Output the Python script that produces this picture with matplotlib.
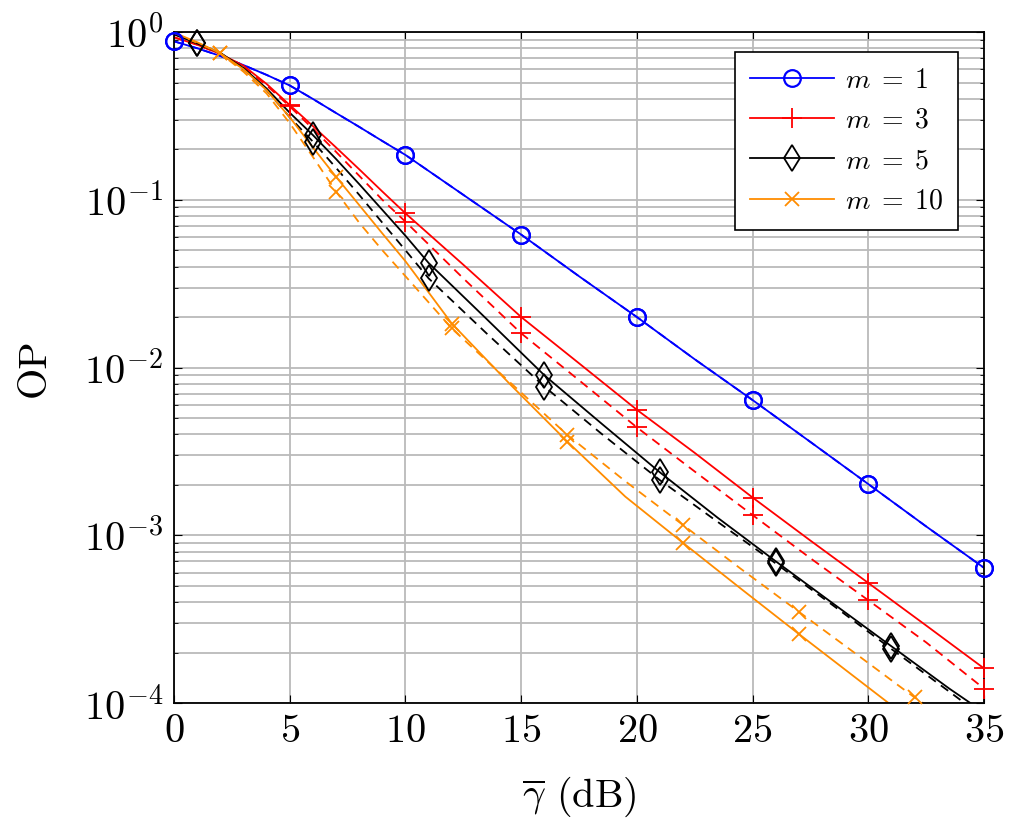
import matplotlib
matplotlib.use('Agg')
import matplotlib.pyplot as plt
from matplotlib.lines import Line2D
from matplotlib.ticker import LogLocator, NullFormatter, FixedLocator

plt.rcParams['font.family'] = 'serif'
plt.rcParams['font.serif'] = ['cmr10', 'DejaVu Serif']
plt.rcParams['mathtext.fontset'] = 'cm'
plt.rcParams['axes.unicode_minus'] = False
plt.rcParams['axes.formatter.use_mathtext'] = True

# m = 1 (solid and dashed are on top of each other)
x_m1 = [0, 1, 2, 3, 4, 5, 6, 7, 8, 9, 10, 12.5, 15, 17.5, 20, 22.5, 25, 27.5, 30, 32.5, 35]
op_m1 = [0.88, 0.80, 0.72, 0.635, 0.555, 0.48, 0.399, 0.329, 0.272, 0.224, 0.185, 0.107,
         0.062, 0.035, 0.020, 0.0112, 0.0064, 0.0036, 0.00202, 0.00113, 0.00064]
op_m1_d = [0.88, 0.80, 0.72, 0.635, 0.555, 0.48, 0.399, 0.329, 0.272, 0.224, 0.185, 0.107,
           0.062, 0.035, 0.020, 0.0112, 0.0064, 0.0036, 0.00202, 0.00113, 0.00064]

# m = 3
x_m3 = [0, 1, 2, 3, 4, 5, 6, 7, 8, 9, 10, 12.5, 15, 17.5, 20, 22.5, 25, 27.5, 30, 32.5, 35]
op_m3 = [0.93, 0.84, 0.74, 0.63, 0.49, 0.367, 0.275, 0.205, 0.152, 0.112, 0.083, 0.041,
         0.020, 0.0106, 0.0056, 0.0031, 0.00168, 0.00093, 0.00052, 0.00029, 0.000161]
op_m3_d = [0.93, 0.84, 0.74, 0.62, 0.48, 0.36, 0.265, 0.193, 0.139, 0.100, 0.074, 0.034,
           0.016, 0.0084, 0.0044, 0.0024, 0.00132, 0.00073, 0.00041, 0.00023, 0.000122]

# m = 5
x_m5 = [0, 1, 2, 3, 4, 5, 6, 7, 8, 9, 10, 11, 13.5, 16, 18.5, 21, 23.5, 26, 28.5, 31, 33.5, 35]
op_m5 = [0.97, 0.855, 0.75, 0.61, 0.46, 0.33, 0.243, 0.175, 0.124, 0.087, 0.061, 0.042,
         0.0195, 0.0090, 0.0046, 0.00237, 0.00127, 0.00070, 0.00039, 0.000218, 0.000122, 0.000088]
op_m5_d = [0.97, 0.855, 0.75, 0.60, 0.45, 0.31, 0.222, 0.155, 0.107, 0.073, 0.050, 0.034,
           0.0160, 0.0077, 0.0040, 0.00213, 0.00120, 0.00068, 0.00038, 0.000210, 0.000117, 0.000082]

# m = 10
x_m10 = [0, 1, 2, 3, 4, 5, 6, 7, 8, 9, 10, 12, 14.5, 17, 19.5, 22, 24.5, 27, 29.5, 32, 33]
op_m10 = [0.99, 0.87, 0.746, 0.60, 0.45, 0.31, 0.205, 0.137, 0.093, 0.063, 0.043, 0.0183,
          0.0080, 0.00361, 0.00170, 0.00090, 0.00048, 0.000258, 0.000140, 0.000076, 0.000061]
op_m10_d = [0.99, 0.86, 0.746, 0.58, 0.43, 0.286, 0.180, 0.112, 0.073, 0.050, 0.035, 0.0171,
            0.0082, 0.00396, 0.00210, 0.00115, 0.00063, 0.00035, 0.000195, 0.000108, 0.000088]

labels = [r'$m\;=\;1$', r'$m\;=\;3$', r'$m\;=\;5$', r'$m\;=\;10$']

fig = plt.figure(figsize=(10.18, 8.36), dpi=100)
ax = fig.add_axes([0.171, 0.159, 0.7956, 0.8027])

series = [
    (x_m1, op_m1, op_m1_d, 'blue', 'o', dict(markersize=12, markerfacecolor='none', markeredgewidth=1.6), 5, 0),
    (x_m3, op_m3, op_m3_d, 'red', '+', dict(markersize=15, markeredgewidth=1.3), 5, 5),
    (x_m5, op_m5, op_m5_d, 'black', 'd', dict(markersize=13, markerfacecolor='none', markeredgewidth=1.3), 5, 1),
    (x_m10, op_m10, op_m10_d, '#ff8c00', 'x', dict(markersize=10, markeredgewidth=1.3), 5, 2),
]

ymin, ymax = 1e-4, 1

handles = []
for (xs, ys, ysd, col, mk, mkw, step, start), lab in zip(series, labels):
    # lines are clipped to the axes, markers are not (they sit on the frame at 35 dB)
    ax.plot(xs, ys, color=col, lw=1.3)
    ax.plot(xs, ysd, color=col, lw=1.3, ls=(0, (5, 3.5)))
    for yy in (ys, ysd):
        mx = [v for v in xs if v >= start and (v - start) % step == 0 and yy[xs.index(v)] >= ymin]
        my = [yy[xs.index(v)] for v in mx]
        ax.plot(mx, my, ls='none', color=col, marker=mk, clip_on=False, zorder=3, **mkw)
    handles.append(Line2D([], [], color=col, lw=1.3, marker=mk, label=lab, **mkw))

ax.set_yscale('log')
ax.set_xlim(0, 35)
ax.set_ylim(ymin, ymax)
ax.xaxis.set_major_locator(FixedLocator([0, 5, 10, 15, 20, 25, 30, 35]))
ax.yaxis.set_major_locator(LogLocator(base=10, numticks=10))
ax.yaxis.set_minor_locator(LogLocator(base=10, subs=range(2, 10), numticks=20))
ax.yaxis.set_minor_formatter(NullFormatter())

ax.grid(True, which='major', color='#bababa', lw=1.3)
ax.grid(True, which='minor', axis='y', color='#bababa', lw=1.3)
ax.set_axisbelow(True)

ax.tick_params(which='both', direction='in', top=True, right=True, labelsize=29, pad=8)
ax.tick_params(which='major', length=6)
ax.tick_params(which='minor', length=3)
for s in ax.spines.values():
    s.set_linewidth(1.3)

ax.set_xlabel(r'$\overline{\gamma}$ (dB)', fontsize=29, labelpad=18)
ax.set_ylabel('OP', fontsize=29, labelpad=22)

leg = ax.legend(handles=handles, loc='upper right', bbox_to_anchor=(0.968, 0.970),
                borderaxespad=0, fontsize=20, fancybox=False, edgecolor='black',
                framealpha=1, handlelength=3.0, handletextpad=0.4, labelspacing=0.5,
                borderpad=0.55)
leg.get_frame().set_linewidth(1.2)

fig.savefig('out.png', dpi=100)
